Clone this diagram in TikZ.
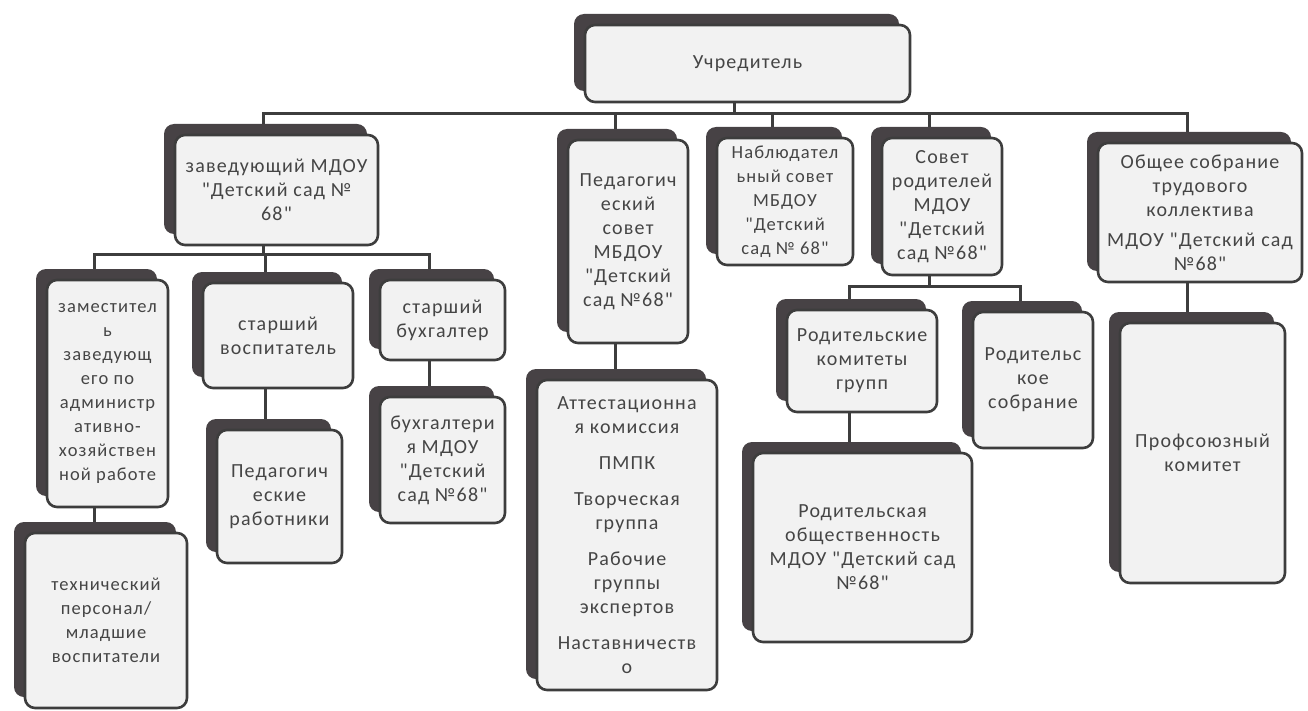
\documentclass[tikz,border=0pt]{standalone}
\usepackage{fontspec}
\setmainfont{Carlito}[LetterSpace=6, Ligatures=TeXOff]
\usetikzlibrary{shadows,backgrounds}

\definecolor{org-BoxColor}{rgb}{0.95,0.95,0.95}
\definecolor{org-ShadowColor}{rgb}{0.28,0.26,0.27}
\definecolor{org-LineColor}{rgb}{0.24,0.24,0.24}
\definecolor{org-TextColor}{rgb}{0.27,0.27,0.27}
\tikzstyle{org-base}=[rectangle,
                      draw=org-LineColor,
                      line width=2.6pt,
                      rounded corners=10pt,
                      text centered,
                      inner sep=2pt,
                      text=org-TextColor,
                      font=\fontsize{20}{24}\selectfont
                     ]
\tikzstyle{org-box}=[org-base,
                     fill={org-BoxColor},
                     general shadow={fill=org-ShadowColor, shadow xshift=-11pt, shadow yshift=11pt}]
\tikzstyle{org-small}=[font=\fontsize{18.5}{24}\selectfont]
\tikzstyle{org-link}=[draw=org-LineColor, line width=3pt]

\begin{document}
\begin{tikzpicture}[x=1pt, y=-1pt, align=center]
    \useasboundingbox (0,0) rectangle (1308,711);

    % Top
    % --------------------------------------------------------------------------
    \node at ( 747.5,  63.5) (uch) [org-box, minimum width=325pt, minimum height=77pt] {Учредитель};

    % First level
    % --------------------------------------------------------------------------
    \node at ( 276.5, 190.0) (zav) [org-box, minimum width=203pt, minimum height=110pt] {заведующий МДОУ\\"Детский сад №\\68"};
    \node at ( 628.0, 241.5) (ped) [org-box, minimum width=120pt, minimum height=203pt] {Педагогич\\еский\\совет\\МБДОУ\\"Детский\\сад №68"};
    \node at ( 785.0, 201.5) (nab) [org-box, org-small, minimum width=136pt, minimum height=127pt] {Наблюдател\\ьный совет\\МБДОУ\\"Детский\\сад № 68"};
    \node at ( 942.0, 206.5) (sov) [org-box, minimum width=120pt, minimum height=137pt] {Совет\\родителей\\МДОУ\\"Детский\\сад №68"};
    \node at (1200.0, 212.5) (obs) [org-box, minimum width=204pt, minimum height=139pt] {Общее собрание\\трудового\\коллектива\\[6pt]МДОУ "Детский сад\\№68"};

    % Second level
    % --------------------------------------------------------------------------
    \node at ( 107.5, 393.5) (zam)  [org-box, org-small, minimum width=121pt, minimum height=227pt] {заместител\\ь\\заведующ\\его по\\администр\\ативно-\\хозяйствен\\ной работе};
    \node at ( 278.0, 335.5) (stv)  [org-box, minimum width=150pt, minimum height=105pt] {старший\\воспитатель};
    \node at ( 442.5, 320.0) (stb)  [org-box, minimum width=125pt, minimum height=80pt] {старший\\бухгалтер};
    \node at ( 627.0, 535.0) (att)  [org-box, minimum width=180pt, minimum height=310pt] {Аттестационна\\я комиссия\\[12pt]ПМПК\\[12pt]Творческая\\группа\\[12pt]Рабочие\\группы\\экспертов\\[12pt]Наставничеств\\о};
    \node at ( 862.0, 361.0) (kom)  [org-box, minimum width=150pt, minimum height=102pt] {Родительские\\комитеты\\групп};
    \node at (1033.0, 380.0) (sob)  [org-box, minimum width=120pt, minimum height=136pt] {Родительс\\кое\\собрание};
    \node at (1202.5, 453.0) (prof) [org-box, minimum width=165pt, minimum height=260pt] {Профсоюзный\\комитет};

    % Third level
    % --------------------------------------------------------------------------
    \node at ( 106.0, 620.5) (teh)  [org-box, org-small, minimum width=162pt, minimum height=175pt] {технический\\персонал/\\младшие\\воспитатели};
    \node at ( 279.5, 496.5) (pedr) [org-box, minimum width=125pt, minimum height=133pt] {Педагогич\\еские\\работники};
    \node at ( 442.5, 460.0) (buh)  [org-box, minimum width=125pt, minimum height=126pt] {бухгалтери\\я МДОУ\\"Детский\\сад №68"};
    \node at ( 862.5, 547.5) (obsh) [org-box, minimum width=219pt, minimum height=189pt] {Родительская\\общественность\\МДОУ "Детский сад\\№68"};

    % Lines
    % --------------------------------------------------------------------------
    \begin{scope}[on background layer]
    \draw[org-link] ([xshift=-13pt]uch.south) -- ++(0,10) -| ([xshift=-13pt]zav.north);
    \draw[org-link] ([xshift=-13pt]uch.south) -- ++(0,10) -| ([xshift=-13pt]ped.north);
    \draw[org-link] ([xshift=-13pt]uch.south) -- ++(0,10) -| ([xshift=-13pt]nab.north);
    \draw[org-link] ([xshift=-13pt]uch.south) -- ++(0,10) -| ([xshift=-13pt]sov.north);
    \draw[org-link] ([xshift=-13pt]uch.south) -- ++(0,10) -| ([xshift=-13pt]obs.north);

    \draw[org-link] ([xshift=-13pt]zav.south) -- ++(0,8) -| ([xshift=-13pt]zam.north);
    \draw[org-link] ([xshift=-13pt]zav.south) -- ++(0,8) -| ([xshift=-13pt]stv.north);
    \draw[org-link] ([xshift=-13pt]zav.south) -- ++(0,8) -| ([xshift=-13pt]stb.north);

    \draw[org-link] ([xshift=-13pt]sov.south) -- ++(0,10) -| ([xshift=-13pt]kom.north);
    \draw[org-link] ([xshift=-13pt]sov.south) -- ++(0,10) -| ([xshift=-13pt]sob.north);

    \draw[org-link] ([xshift=-13pt]zam.south) -- ([xshift=-13pt]zam.south |- teh.north);
    \draw[org-link] ([xshift=-13pt]stv.south) -- ([xshift=-13pt]stv.south |- pedr.north);
    \draw[org-link] ([xshift=-13pt]stb.south) -- ([xshift=-13pt]stb.south |- buh.north);
    \draw[org-link] ([xshift=-13pt]ped.south) -- ([xshift=-13pt]ped.south |- att.north);
    \draw[org-link] ([xshift=-13pt]kom.south) -- ([xshift=-13pt]kom.south |- obsh.north);
    \draw[org-link] ([xshift=-13pt]obs.south) -- ([xshift=-13pt]obs.south |- prof.north);
    \end{scope}

\end{tikzpicture}
\end{document}
